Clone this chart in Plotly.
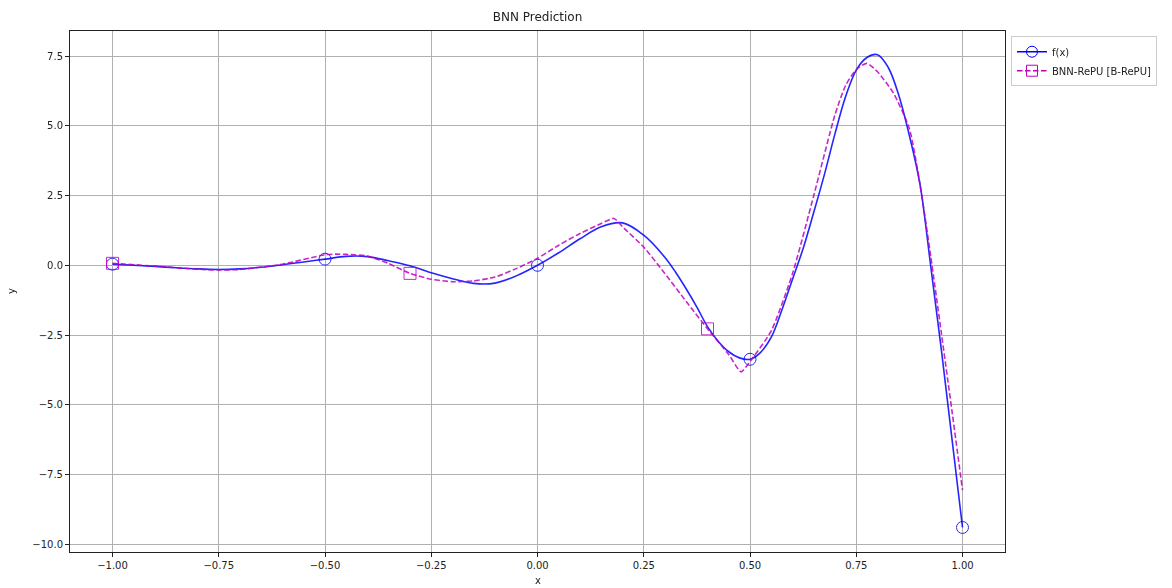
import plotly.graph_objects as go

# True function f(x), sampled along x
fx_x = [-1.0, -0.95, -0.9, -0.85, -0.8, -0.75, -0.7, -0.65, -0.6, -0.55,
        -0.5, -0.45, -0.4, -0.35, -0.3, -0.25, -0.2, -0.15, -0.1, -0.05,
        0.0, 0.05, 0.1, 0.15, 0.2, 0.25, 0.3, 0.325, 0.35, 0.375,
        0.4, 0.425, 0.45, 0.475, 0.5, 0.525, 0.55, 0.575, 0.6, 0.625,
        0.65, 0.675, 0.7, 0.725, 0.75, 0.775, 0.8, 0.825, 0.85, 0.875,
        0.9, 0.925, 0.95, 0.975, 1.0]
fx_y = [0.04, 0.0, -0.04, -0.09, -0.13, -0.15, -0.13, -0.07, 0.02, 0.12,
        0.22, 0.32, 0.31, 0.16, -0.02, -0.27, -0.48, -0.65, -0.64, -0.38,
        0.0, 0.45, 0.95, 1.38, 1.52, 1.08, 0.28, -0.25, -0.85, -1.5,
        -2.2, -2.72, -3.1, -3.32, -3.37, -3.12, -2.58, -1.6, -0.5, 0.6,
        1.9, 3.25, 4.72, 6.05, 7.0, 7.45, 7.55, 7.1, 6.1, 4.65,
        2.9, 0.0, -3.0, -6.2, -9.4]

# BNN-RePU prediction
bnn_x = [-1.0, -0.9, -0.8, -0.75, -0.7, -0.6, -0.5, -0.475, -0.45, -0.4,
         -0.35, -0.3, -0.25, -0.2, -0.15, -0.1, -0.05, 0.0, 0.05, 0.1,
         0.15, 0.18, 0.2, 0.25, 0.3, 0.35, 0.4, 0.45, 0.479, 0.5,
         0.55, 0.6, 0.65, 0.7, 0.725, 0.75, 0.775, 0.8, 0.838, 0.875,
         0.9, 0.925, 0.95, 0.975, 1.0]
bnn_y = [0.07, -0.03, -0.14, -0.17, -0.15, 0.04, 0.38, 0.4, 0.39, 0.33,
         0.06, -0.29, -0.5, -0.59, -0.56, -0.42, -0.12, 0.25, 0.72, 1.14,
         1.5, 1.68, 1.38, 0.65, -0.3, -1.3, -2.28, -3.2, -3.82, -3.45,
         -2.35, -0.3, 2.5, 5.4, 6.45, 7.02, 7.24, 6.94, 6.16, 4.9,
         2.9, 0.35, -2.4, -5.2, -8.06]

# x positions where markers are drawn on each curve
fx_mark_x = [-1.0, -0.5, 0.0, 0.5, 1.0]
bnn_mark_x = [-1.0, -0.3, 0.4]

BLUE = "#0000ff"
MAGENTA = "#bf00bf"
FONT = "DejaVu Sans"
DASH = "5.5px,2.5px"

fx_mx = [x for x in fx_x if x in fx_mark_x]
fx_my = [y for x, y in zip(fx_x, fx_y) if x in fx_mark_x]
bnn_mx = [x for x in bnn_x if x in bnn_mark_x]
bnn_my = [y for x, y in zip(bnn_x, bnn_y) if x in bnn_mark_x]

fig = go.Figure()

fig.add_trace(go.Scatter(
    x=fx_x, y=fx_y, mode="lines", showlegend=False,
    line=dict(color=BLUE, width=1.6, shape="spline", smoothing=1.0),
    opacity=0.85))
fig.add_trace(go.Scatter(
    x=fx_mx, y=fx_my, mode="markers", showlegend=False,
    marker=dict(symbol="circle-open", size=12, color=BLUE, line=dict(width=1)),
    opacity=0.85))

fig.add_trace(go.Scatter(
    x=bnn_x, y=bnn_y, mode="lines", showlegend=False,
    line=dict(color=MAGENTA, width=1.6, dash=DASH, shape="spline",
              smoothing=0.6),
    opacity=0.85))
fig.add_trace(go.Scatter(
    x=bnn_mx, y=bnn_my, mode="markers", showlegend=False,
    marker=dict(symbol="square-open", size=12, color=MAGENTA, line=dict(width=1)),
    opacity=0.85))

# legend entries (line + marker sample)
fig.add_trace(go.Scatter(
    x=[None], y=[None], mode="lines+markers", name="f(x)",
    line=dict(color=BLUE, width=1.6),
    marker=dict(symbol="circle-open", size=11, color=BLUE, line=dict(width=1))))
fig.add_trace(go.Scatter(
    x=[None], y=[None], mode="lines+markers", name="BNN-RePU [B-RePU]",
    line=dict(color=MAGENTA, width=1.6, dash=DASH),
    marker=dict(symbol="square-open", size=11, color=MAGENTA, line=dict(width=1))))

axis_common = dict(
    showline=True, linecolor="#222222", linewidth=1, mirror=True,
    ticks="outside", ticklen=4, tickcolor="#222222", tickwidth=1,
    showgrid=True, gridcolor="#b0b0b0", gridwidth=1, zeroline=False,
    tickfont=dict(family=FONT, size=10, color="#222222"),
)

fig.update_xaxes(range=[-1.1, 1.1], tick0=-1.0, dtick=0.25, tickformat=".2f",
                 **axis_common)
fig.update_yaxes(range=[-10.28, 8.40], tick0=0, dtick=2.5, tickformat=".1f",
                 **axis_common)

fig.update_layout(
    width=1172, height=588,
    margin=dict(l=70, r=167, t=31, b=36),
    paper_bgcolor="white", plot_bgcolor="white",
    font=dict(family=FONT, size=10, color="#222222"),
    title=dict(text="BNN Prediction", x=0.5, xref="paper", xanchor="center",
               y=1 - 17 / 588, yref="container", yanchor="middle",
               font=dict(family=FONT, size=12, color="#222222")),
    legend=dict(x=1.0064, xanchor="left", y=0.99, yanchor="top",
                bgcolor="white", bordercolor="#cccccc", borderwidth=1,
                font=dict(family=FONT, size=10, color="#222222"),
                itemwidth=30, tracegroupgap=0),
    annotations=[
        dict(text="x", x=0.5, xref="paper", y=0, yref="paper",
             xanchor="center", yanchor="top", yshift=-21, showarrow=False,
             font=dict(family=FONT, size=10, color="#222222")),
        dict(text="y", x=0, xref="paper", y=0.5, yref="paper",
             xanchor="right", yanchor="middle", xshift=-51, textangle=-90,
             showarrow=False, font=dict(family=FONT, size=10, color="#222222")),
    ],
)

fig.write_html("out.html")
